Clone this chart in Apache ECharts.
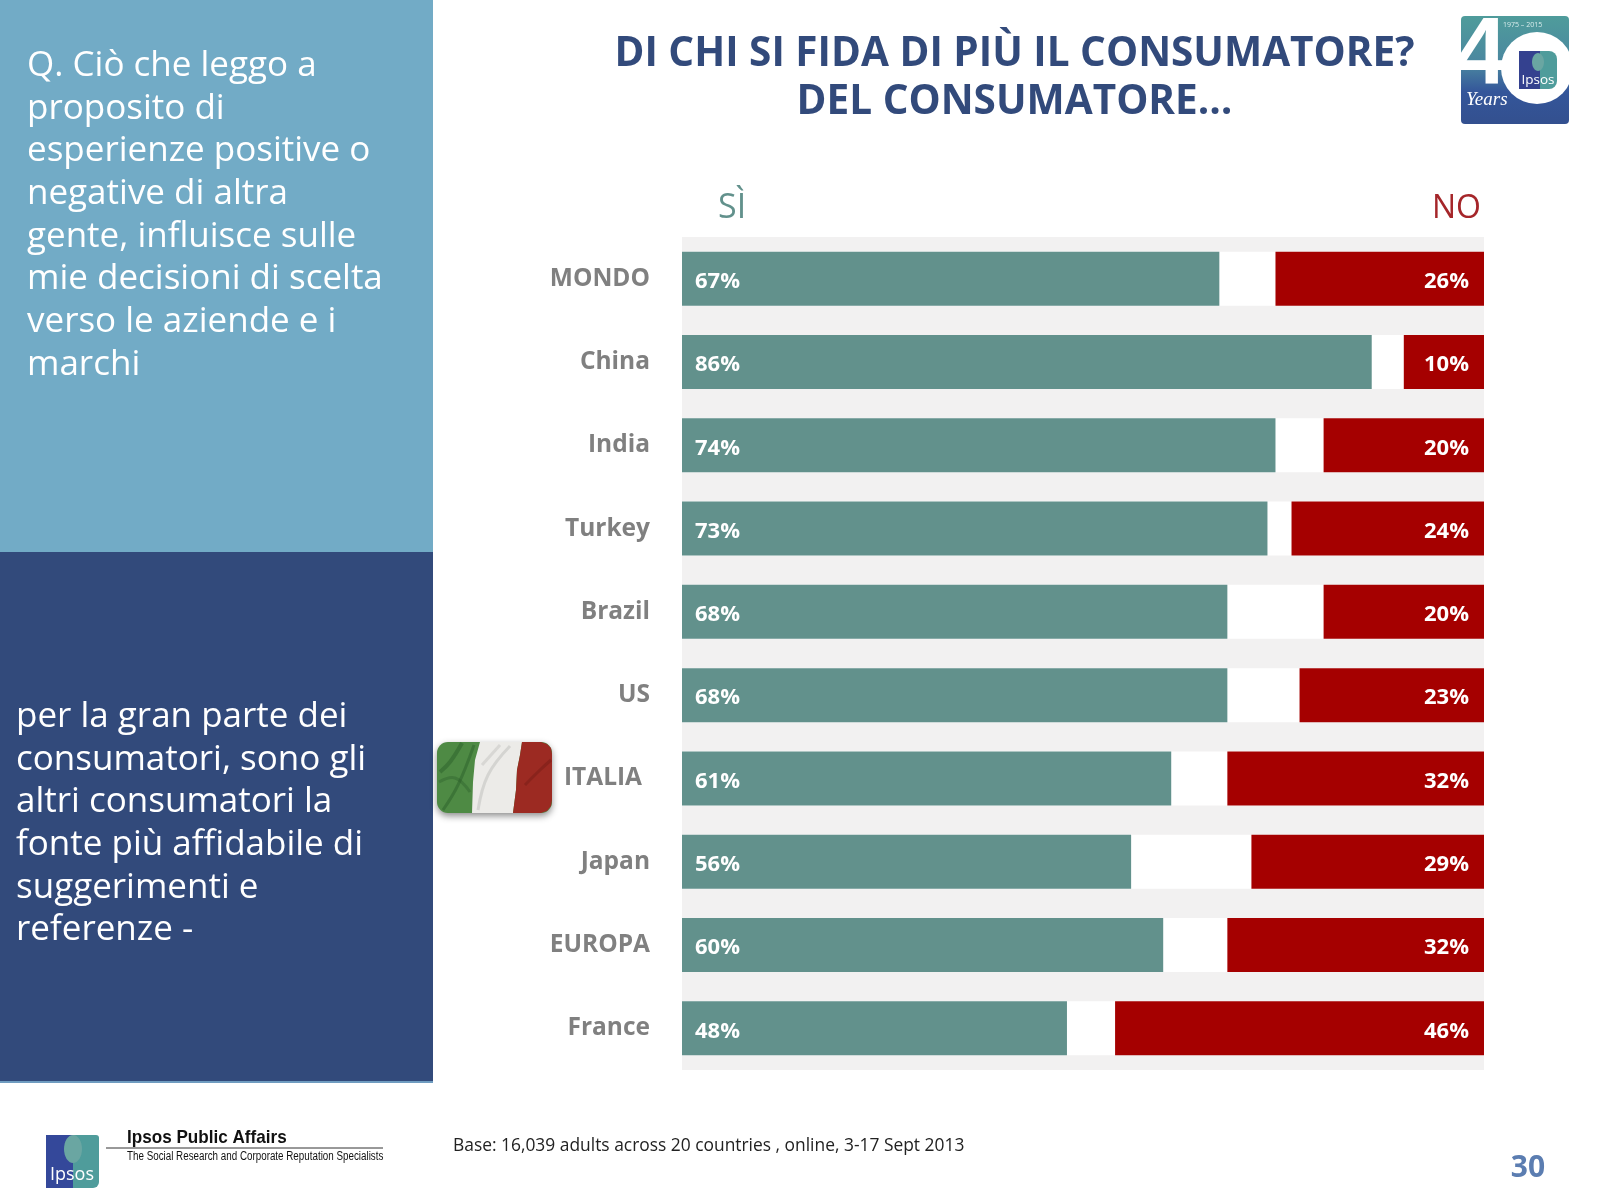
<!DOCTYPE html>
<html>
<head>
<meta charset="utf-8">
<style>html,body{margin:0;padding:0;background:#fff}#main{width:1600px;height:1200px}</style>
<script src="https://cdn.jsdelivr.net/npm/echarts@6/dist/echarts.min.js"></script>
</head>
<body>
<div id="main"></div>
<script>
const categories = ['MONDO', 'China', 'India', 'Turkey', 'Brazil', 'US', 'ITALIA', 'Japan', 'EUROPA', 'France'];
const siValues = [67, 86, 74, 73, 68, 68, 61, 56, 60, 48];
const noValues = [26, 10, 20, 24, 20, 23, 32, 29, 32, 46];

const titleLines = ['DI CHI SI FIDA DI PIÙ IL CONSUMATORE?', 'DEL CONSUMATORE…'];
const questionLines = ['Q. Ciò che leggo a', 'proposito di', 'esperienze positive o', 'negative di altra', 'gente, influisce sulle',
  'mie decisioni di scelta', 'verso le aziende e i', 'marchi'];
const answerLines = ['per la gran parte dei', 'consumatori, sono gli', 'altri consumatori la', 'fonte più affidabile di',
  'suggerimenti e', 'referenze -'];

const FONT = '"Open Sans", "Noto Sans", sans-serif';
const TEAL = '#62918c';
const RED = '#a50000';

var myChart = echarts.init(document.getElementById('main'), null, { renderer: 'canvas' });

function text(x, y, str, size, fill, extra, scaleX) {
  return {
    type: 'text',
    x: x,
    y: y,
    scaleX: scaleX || 1,
    silent: true,
    style: Object.assign({
      text: str, fontFamily: FONT, fontSize: size, fill: fill,
      textAlign: 'left', textVerticalAlign: 'middle'
    }, extra || {})
  };
}
function rect(x, y, w, h, fill, r, shadow) {
  return {
    type: 'rect', silent: true,
    shape: { x: x, y: y, width: w, height: h, r: r || 0 },
    style: Object.assign({ fill: fill }, shadow || {})
  };
}
function poly(points, fill) {
  return { type: 'polygon', silent: true, shape: { points: points }, style: { fill: fill } };
}
function fold(points, stroke, width) {
  return { type: 'polyline', silent: true, shape: { points: points, smooth: 0.4 }, style: { fill: 'none', stroke: stroke, lineWidth: width } };
}
function grad(x, y, x2, y2, stops) {
  return new echarts.graphic.LinearGradient(x, y, x2, y2, stops, true);
}

const graphic = [];

// side panels
graphic.push(rect(0, 0, 433, 552, '#72abc6'));
graphic.push(rect(0, 552, 433, 531, '#324a7b'));
graphic.push(rect(0, 1081, 433, 2, '#6f9cc0'));
questionLines.forEach((l, i) => graphic.push(text(27, 66 + i * 42.7, l, 35, '#fff')));
answerLines.forEach((l, i) => graphic.push(text(16, 717 + i * 42.7, l, 35, '#fff')));

// title
titleLines.forEach((l, i) => graphic.push(text(1014.5, 54 + i * 48, l, 40.5, '#324a7b', { fontWeight: 'bold', textAlign: 'center' })));

// column heads
graphic.push(text(718, 208, 'SÌ', 34, TEAL));
graphic.push(text(1481, 209, 'NO', 32, '#a5262a', { textAlign: 'right' }));

// italian flag
graphic.push(rect(437, 742, 115, 71, '#4e8a44', 11, { shadowBlur: 7, shadowColor: 'rgba(0,0,0,0.45)', shadowOffsetY: 3 }));
graphic.push(fold([[462, 743], [450, 762], [440, 772]], 'rgba(40,90,40,0.45)', 4));
graphic.push(fold([[474, 745], [458, 785], [443, 810]], 'rgba(40,90,40,0.45)', 3));
graphic.push(fold([[439, 782], [455, 778], [470, 792]], 'rgba(40,90,40,0.35)', 3));
graphic.push(poly([[480, 742], [475, 760], [473, 782], [472, 813], [513, 813], [516, 790], [517, 770], [520, 755], [522, 742]], '#ecebe8'));
graphic.push(fold([[510, 746], [488, 775], [478, 810]], 'rgba(170,168,165,0.35)', 3));
graphic.push(fold([[500, 745], [482, 765]], 'rgba(170,168,165,0.3)', 3));
graphic.push(poly([[522, 742], [520, 755], [517, 770], [516, 790], [513, 813], [541, 813], [547, 811], [551, 806], [552, 800],
  [552, 754], [551, 748], [547, 744], [541, 742]], '#9c2a22'));
graphic.push(fold([[525, 785], [540, 770], [551, 760]], 'rgba(110,25,20,0.4)', 3));

// 40 years logo
graphic.push(rect(1461, 16, 108, 108, grad(0, 16, 0, 124, [
  { offset: 0, color: '#4f9c9b' }, { offset: 0.45, color: '#4a86a0' }, { offset: 0.7, color: '#34569a' }, { offset: 1, color: '#33508f' }
]), 4));
graphic.push(text(1507, 57, '4', 94, '#fff', { fontWeight: 'bold', textAlign: 'right', fontFamily: '"Liberation Sans", sans-serif' }));
graphic.push({ type: 'circle', silent: true, shape: { cx: 1537, cy: 68, r: 36 }, style: { fill: '#fff' } });
graphic.push(rect(1519, 51, 38, 38, '#4f9c9b', [0, 8, 8, 0]));
graphic.push(rect(1519, 51, 21, 38, '#34418f'));
graphic.push({ type: 'ellipse', silent: true, shape: { cx: 1538, cy: 62, rx: 6, ry: 9 }, style: { fill: '#6aa6a2' } });
graphic.push(text(1538, 80, 'Ipsos', 13.5, '#fff', { textAlign: 'center' }));
graphic.push(text(1503, 25, '1975 – 2015', 7, '#d8ecec'));
graphic.push(text(1466, 100, 'Years', 19, '#fff', { fontStyle: 'italic', fontFamily: '"Liberation Serif", serif' }));

// footer logo
graphic.push(rect(46, 1135, 53, 53, '#4f9c9b', [0, 3, 6, 0]));
graphic.push(rect(46, 1135, 27, 53, '#34489a'));
graphic.push({ type: 'ellipse', silent: true, shape: { cx: 73, cy: 1149, rx: 9, ry: 14 }, style: { fill: '#6aa6a2' } });
graphic.push(text(72, 1175, 'Ipsos', 18, '#fff', { textAlign: 'center' }));
graphic.push(text(127, 1138, 'Ipsos Public Affairs', 19, '#111', { fontWeight: 'bold', fontFamily: '"Liberation Sans", sans-serif' }, 0.9));
graphic.push({ type: 'line', silent: true, shape: { x1: 106, y1: 1148, x2: 383, y2: 1148 }, style: { stroke: '#333', lineWidth: 1 } });
graphic.push(text(127, 1157, 'The Social Research and Corporate Reputation Specialists', 12.5, '#111', { fontFamily: '"Liberation Sans", sans-serif' }, 0.785));

// footnote and page number
graphic.push(text(453, 1146, 'Base: 16,039 adults across 20 countries , online, 3-17 Sept 2013', 17.4, '#222'));
graphic.push(text(1528, 1168, '30', 30, '#5b7db1', { fontWeight: 'bold', textAlign: 'center' }));

var option = {
  animation: false,
  backgroundColor: '#fff',
  grid: { left: 682, right: 116, top: 237, bottom: 130, show: true, backgroundColor: '#f2f1f1', borderWidth: 0 },
  xAxis: [
    { type: 'value', min: 0, max: 100, show: false },
    { type: 'value', min: 0, max: 100, show: false, inverse: true }
  ],
  yAxis: {
    type: 'category',
    inverse: true,
    data: categories.map(c => c === 'ITALIA'
      ? { value: c, textStyle: { padding: [7, 8, 0, 0] } } : c),
    axisLine: { show: false },
    axisTick: { show: false },
    axisLabel: { color: '#808080', fontFamily: FONT, fontWeight: 'bold', fontSize: 24.5, margin: 32, padding: [7, 0, 0, 0] }
  },
  series: [
    {
      name: 'SÌ', type: 'bar', xAxisIndex: 0, barWidth: 54, barGap: '-100%',
      data: siValues,
      itemStyle: { color: TEAL },
      showBackground: true,
      backgroundStyle: { color: '#fff' },
      label: { show: true, position: 'insideLeft', distance: 13, offset: [0, 3], formatter: '{c}%', color: '#fff', fontFamily: FONT, fontWeight: 'bold', fontSize: 22 }
    },
    {
      name: 'NO', type: 'bar', xAxisIndex: 1, barWidth: 54, barGap: '-100%',
      data: noValues,
      itemStyle: { color: RED },
      label: { show: true, position: 'insideRight', distance: 15, offset: [0, 3], formatter: '{c}%', color: '#fff', fontFamily: FONT, fontWeight: 'bold', fontSize: 22 }
    }
  ],
  graphic: graphic
};

option && myChart.setOption(option);
</script>
</body>
</html>
